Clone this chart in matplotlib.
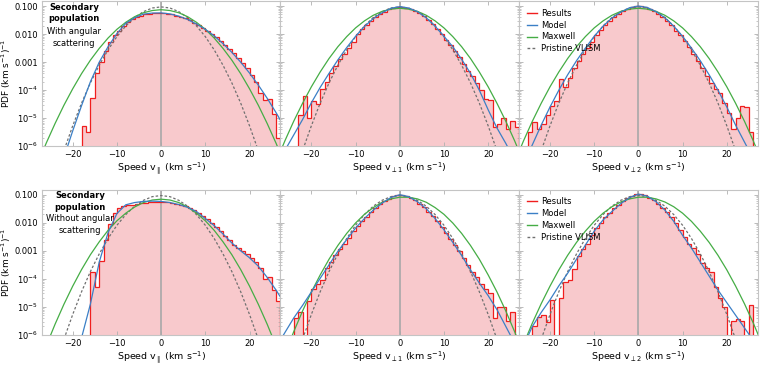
"""Velocity distributions of the secondary population, with and without
angular scattering: simulated histograms against model, Maxwell and
pristine VLISM curves (log10 PDF values read off the original figure)."""
import numpy as np
import matplotlib
matplotlib.use("Agg")
import matplotlib.pyplot as plt
from matplotlib.lines import Line2D
from matplotlib.ticker import FixedLocator, FixedFormatter, NullFormatter

# speed grid (km/s) for the smooth curves
v_curve = np.arange(-28, 29, 2)

# log10 PDF of the curves on v_curve
pristine_vlism = [-9.34, -8.2, -7.14, -6.16, -5.27, -4.46, -3.74, -3.11, -2.56, -2.09,
                  -1.71, -1.41, -1.2, -1.07, -1.03, -1.07, -1.2, -1.41, -1.71, -2.09,
                  -2.56, -3.11, -3.74, -4.46, -5.27, -6.16, -7.14, -8.2, -9.34]

model_par_scat = [-9.4, -8.4, -7.4, -6.4, -5.45, -4.55, -3.7, -3.0, -2.45, -1.98,
                  -1.62, -1.42, -1.29, -1.25, -1.245, -1.28, -1.36, -1.48, -1.64, -1.83,
                  -2.06, -2.34, -2.65, -3.0, -3.39, -3.82, -4.29, -4.8, -5.34]
maxwell_par_scat = [-6.65, -5.89, -5.19, -4.54, -3.95, -3.41, -2.93, -2.51, -2.14, -1.83,
                    -1.58, -1.38, -1.24, -1.16, -1.13, -1.16, -1.24, -1.38, -1.58, -1.83,
                    -2.14, -2.51, -2.93, -3.41, -3.95, -4.54, -5.19, -5.89, -6.65]

model_perp1_scat = [-6.7, -6.15, -5.6, -5.05, -4.45, -3.9, -3.4, -2.92, -2.48, -2.08,
                    -1.73, -1.45, -1.24, -1.08, -1.02, -1.07, -1.2, -1.42, -1.72, -2.08,
                    -2.45, -2.9, -3.4, -4.0, -4.7, -5.35, -5.9, -6.5, -7.1]
maxwell_perp1_scat = [-6.57, -5.81, -5.11, -4.47, -3.88, -3.35, -2.87, -2.45, -2.09, -1.78,
                      -1.53, -1.33, -1.19, -1.11, -1.08, -1.11, -1.19, -1.33, -1.53, -1.78,
                      -2.09, -2.45, -2.87, -3.35, -3.88, -4.47, -5.11, -5.81, -6.57]

model_perp2_scat = [-7.3, -6.6, -5.95, -5.25, -4.6, -4.0, -3.45, -2.95, -2.5, -2.08,
                    -1.72, -1.43, -1.22, -1.06, -1.0, -1.05, -1.2, -1.42, -1.72, -2.08,
                    -2.5, -2.95, -3.45, -4.0, -4.6, -5.25, -5.85, -6.45, -7.1]
maxwell_perp2_scat = [-6.57, -5.81, -5.11, -4.47, -3.88, -3.35, -2.87, -2.45, -2.09, -1.78,
                      -1.53, -1.33, -1.19, -1.11, -1.08, -1.11, -1.19, -1.33, -1.53, -1.78,
                      -2.09, -2.45, -2.87, -3.35, -3.88, -4.47, -5.11, -5.81, -6.57]

model_par_noscat = [-12.1, -10.9, -9.7, -8.5, -7.3, -6.1, -4.9, -3.4, -2.35, -1.67,
                    -1.36, -1.28, -1.24, -1.23, -1.24, -1.28, -1.35, -1.45, -1.6, -1.85,
                    -2.1, -2.4, -2.72, -3.0, -3.25, -3.55, -3.95, -4.4, -4.9]
maxwell_par_noscat = [-7.23, -6.39, -5.62, -4.91, -4.26, -3.67, -3.14, -2.68, -2.27, -1.93,
                      -1.66, -1.44, -1.28, -1.19, -1.16, -1.19, -1.28, -1.44, -1.66, -1.93,
                      -2.27, -2.68, -3.14, -3.67, -4.26, -4.91, -5.62, -6.39, -7.23]

model_perp1_noscat = [-6.45, -5.92, -5.4, -4.95, -4.47, -3.98, -3.5, -3.02, -2.6, -2.19,
                      -1.85, -1.55, -1.3, -1.1, -1.0, -1.07, -1.25, -1.5, -1.85, -2.25,
                      -2.7, -3.17, -3.68, -4.15, -4.6, -5.1, -5.7, -6.3, -6.9]
maxwell_perp1_noscat = [-7.55, -6.69, -5.89, -5.15, -4.47, -3.86, -3.3, -2.81, -2.38, -2.01,
                        -1.7, -1.46, -1.27, -1.15, -1.09, -1.09, -1.15, -1.27, -1.46, -1.7,
                        -2.01, -2.38, -2.81, -3.3, -3.86, -4.47, -5.15, -5.89, -6.69]

model_perp2_noscat = [-7.2, -6.4, -5.7, -5.2, -4.75, -4.25, -3.8, -3.3, -2.8, -2.3,
                      -1.9, -1.6, -1.32, -1.1, -0.98, -1.05, -1.25, -1.55, -1.95, -2.45,
                      -2.9, -3.4, -3.9, -4.4, -4.85, -5.3, -5.75, -6.2, -6.7]
maxwell_perp2_noscat = [-7.14, -6.33, -5.58, -4.89, -4.26, -3.68, -3.16, -2.7, -2.3, -1.95,
                        -1.66, -1.43, -1.26, -1.15, -1.09, -1.09, -1.15, -1.26, -1.43, -1.66,
                        -1.95, -2.3, -2.7, -3.16, -3.68, -4.26, -4.89, -5.58, -6.33]

# simulation histograms: 1 km/s bins from the given left edge, log10 PDF (None = empty bin)
res_par_scat_start = -18
res_par_scat = [-5.28, -5.5, -4.27, -3.38, -3.0, -2.62, -2.3, -2.05, -1.88, -1.7,
                -1.57, -1.47, -1.39, -1.34, -1.3, -1.27, -1.25, -1.25, -1.26, -1.27,
                -1.3, -1.34, -1.38, -1.44, -1.51, -1.59, -1.68, -1.78, -1.88, -1.99,
                -2.11, -2.25, -2.38, -2.52, -2.68, -2.85, -3.02, -3.2, -3.45, -3.7,
                -4.1, -4.35, -4.3, -4.85, -5.7]

res_perp1_scat_start = -23
res_perp1_scat = [-4.9, -4.2, -5.0, -4.4, -4.5, -3.95, -3.7, -3.4, -3.15, -2.9,
                  -2.7, -2.48, -2.3, -2.0, -1.82, -1.66, -1.52, -1.39, -1.28, -1.2,
                  -1.12, -1.06, -1.03, -1.03, -1.06, -1.1, -1.17, -1.26, -1.37, -1.5,
                  -1.65, -1.82, -2.0, -2.2, -2.4, -2.6, -2.8, -3.05, -3.3, -3.5,
                  -3.75, -4.0, -4.3, -4.35, -5.3, -5.2, -5.0, -5.4, -5.1, -5.3]

res_perp2_scat_start = -25
res_perp2_scat = [-5.5, -5.15, -5.4, -5.2, -4.9, -4.55, -4.4, -3.6, -3.9, -3.55,
                  -3.2, -2.95, -2.7, -2.48, -2.28, -2.05, -1.85, -1.67, -1.52, -1.38,
                  -1.27, -1.17, -1.09, -1.03, -1.0, -1.0, -1.03, -1.09, -1.17, -1.27,
                  -1.38, -1.52, -1.68, -1.88, -2.05, -2.25, -2.45, -2.7, -2.95, -3.2,
                  -3.5, -3.75, -3.95, -4.1, -4.45, -4.8, -5.4, -5.0, -4.55, -4.6,
                  -5.5]

res_par_noscat_start = -16
res_par_noscat = [-3.75, -4.3, -3.35, -2.6, -2.05, -1.65, -1.47, -1.42, -1.38, -1.35,
                  -1.32, -1.3, -1.28, -1.26, -1.25, -1.25, -1.25, -1.27, -1.3, -1.33,
                  -1.37, -1.42, -1.48, -1.55, -1.64, -1.76, -1.88, -2.0, -2.14, -2.3,
                  -2.46, -2.62, -2.78, -2.9, -3.0, -3.12, -3.25, -3.4, -3.6, -4.0,
                  -3.95, -4.4, -4.8]

res_perp1_noscat_start = -24
res_perp1_noscat = [-5.4, -5.2, None, -4.8, -4.35, -4.2, -4.05, -3.6, -3.4, -3.15,
                    -2.95, -2.75, -2.55, -2.3, -2.1, -1.95, -1.78, -1.62, -1.47, -1.34,
                    -1.23, -1.14, -1.06, -1.01, -1.01, -1.04, -1.12, -1.2, -1.32, -1.45,
                    -1.6, -1.77, -1.95, -2.15, -2.37, -2.58, -2.8, -3.0, -3.25, -3.5,
                    -3.75, -3.95, -4.2, -4.35, -4.5, -5.4, -5.0, -5.0, -5.5, -5.2]

res_perp2_noscat_start = -24
res_perp2_noscat = [-5.7, -5.35, -5.3, -5.55, -4.75, None, -4.7, -4.1, -4.05, -3.65,
                    -3.2, -2.95, -2.75, -2.45, -2.2, -2.0, -1.8, -1.65, -1.48, -1.36,
                    -1.22, -1.12, -1.04, -0.98, -0.98, -1.02, -1.1, -1.2, -1.32, -1.47,
                    -1.63, -1.8, -2.0, -2.25, -2.5, -2.75, -2.9, -3.1, -3.45, -3.6,
                    -3.75, -4.3, -4.7, -5.0, None, -5.5, -5.45, -5.5, None, -4.95]

RED, PINK, BLUE, GREEN, GREY = "#f01e1e", "#f8c9cc", "#3b7fc6", "#45ad45", "#707070"

panels = [
    (res_par_scat_start, res_par_scat, model_par_scat, maxwell_par_scat,
     r"Speed v$_{\parallel}$ (km s$^{-1}$)"),
    (res_perp1_scat_start, res_perp1_scat, model_perp1_scat, maxwell_perp1_scat,
     r"Speed v$_{\perp 1}$ (km s$^{-1}$)"),
    (res_perp2_scat_start, res_perp2_scat, model_perp2_scat, maxwell_perp2_scat,
     r"Speed v$_{\perp 2}$ (km s$^{-1}$)"),
    (res_par_noscat_start, res_par_noscat, model_par_noscat, maxwell_par_noscat,
     r"Speed v$_{\parallel}$ (km s$^{-1}$)"),
    (res_perp1_noscat_start, res_perp1_noscat, model_perp1_noscat, maxwell_perp1_noscat,
     r"Speed v$_{\perp 1}$ (km s$^{-1}$)"),
    (res_perp2_noscat_start, res_perp2_noscat, model_perp2_noscat, maxwell_perp2_noscat,
     r"Speed v$_{\perp 2}$ (km s$^{-1}$)"),
]

ytick_vals = [1e-6, 1e-5, 1e-4, 1e-3, 1e-2, 1e-1]
ytick_txt = [r"10$^{-6}$", r"10$^{-5}$", r"10$^{-4}$", "0.001", "0.010", "0.100"]

fig = plt.figure(figsize=(7.6, 3.68), dpi=100)
axes = fig.subplots(2, 3)
fig.subplots_adjust(left=0.055, right=0.997, top=0.997, bottom=0.09, wspace=0, hspace=0.3)

for k, (ax, (start, res, model, maxwell, xlab)) in enumerate(zip(axes.flat, panels)):
    logv = np.array(res, dtype=float)
    pdf = np.where(np.isnan(logv), 1e-12, 10 ** logv)
    edges = start + np.arange(len(pdf) + 1)
    ax.stairs(pdf, edges, baseline=1e-12, fill=True, color=PINK, lw=0, zorder=1)
    ax.axvline(0, color="#a8a8a8", lw=1.2, zorder=2)
    ax.stairs(pdf, edges, baseline=1e-12, color=RED, lw=0.9, zorder=3)
    ax.plot(v_curve, 10 ** np.array(pristine_vlism), color=GREY, lw=0.9,
            ls=(0, (2, 1.6)), zorder=4)
    ax.plot(v_curve, 10 ** np.array(maxwell), color=GREEN, lw=0.9, zorder=4)
    ax.plot(v_curve, 10 ** np.array(model), color=BLUE, lw=0.9, zorder=5)

    ax.set_yscale("log")
    ax.set_xlim(-27, 27)
    ax.set_ylim(1e-6, 0.15)
    ax.set_xticks([-20, -10, 0, 10, 20])
    ax.yaxis.set_major_locator(FixedLocator(ytick_vals))
    if k % 3 == 0:
        ax.yaxis.set_major_formatter(FixedFormatter(ytick_txt))
        ax.set_ylabel("PDF (km s$^{-1}$)$^{-1}$", fontsize=6.5)
        ax.yaxis.set_label_coords(-0.122, 0.5)
    else:
        ax.yaxis.set_major_formatter(NullFormatter())
    ax.yaxis.set_minor_formatter(NullFormatter())
    ax.set_xlabel(xlab, fontsize=6.8, labelpad=1)
    ax.tick_params(which="both", direction="in", top=True, right=True,
                   color="#b0b0b0", labelsize=6, pad=3)
    ax.tick_params(which="major", length=3, width=0.6)
    ax.tick_params(which="minor", length=1.5, width=0.5)
    for sp in ax.spines.values():
        sp.set_color("#c4c4c4")
        sp.set_linewidth(0.8)

    if k % 3 == 2:
        handles = [Line2D([], [], color=RED, lw=1),
                   Line2D([], [], color=BLUE, lw=1),
                   Line2D([], [], color=GREEN, lw=1),
                   Line2D([], [], color=GREY, lw=1, ls=(0, (2, 1.6)))]
        ax.legend(handles, ["Results", "Model", "Maxwell", "Pristine VLISM"],
                  loc="upper left", frameon=False, fontsize=6, handlelength=1.3,
                  handletextpad=0.4, labelspacing=0.35, borderaxespad=0.5)

axes[0, 0].text(0.135, 0.99, "Secondary\npopulation", transform=axes[0, 0].transAxes,
                ha="center", va="top", fontsize=6, fontweight="bold", linespacing=1.4)
axes[0, 0].text(0.135, 0.82, "With angular\nscattering", transform=axes[0, 0].transAxes,
                ha="center", va="top", fontsize=6, linespacing=1.4)
axes[1, 0].text(0.16, 0.99, "Secondary\npopulation", transform=axes[1, 0].transAxes,
                ha="center", va="top", fontsize=6, fontweight="bold", linespacing=1.4)
axes[1, 0].text(0.16, 0.83, "Without angular\nscattering", transform=axes[1, 0].transAxes,
                ha="center", va="top", fontsize=6, linespacing=1.4)

fig.savefig("out.png", dpi=100)
